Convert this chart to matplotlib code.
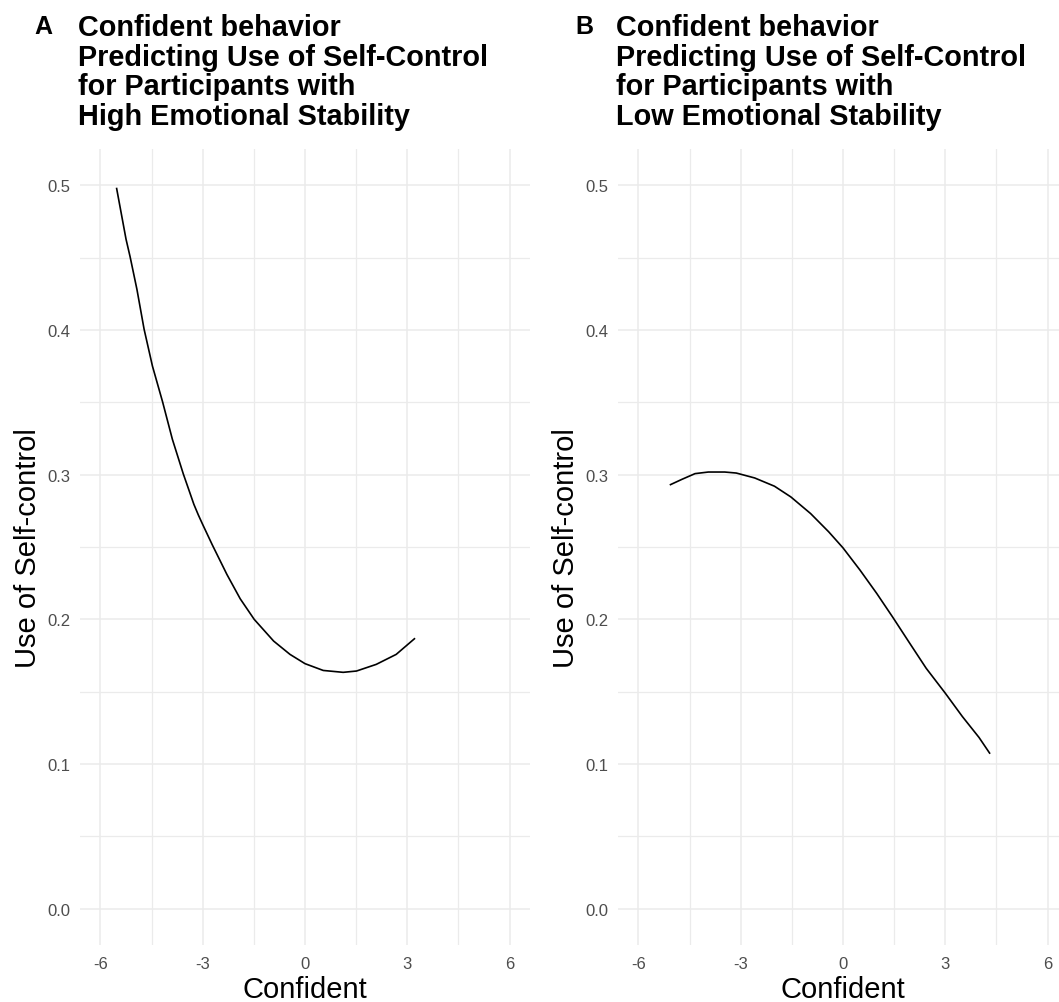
import matplotlib.pyplot as plt
from matplotlib.ticker import MultipleLocator

plt.rcParams['font.family'] = ['Liberation Sans', 'DejaVu Sans']
plt.rcParams['axes.unicode_minus'] = False

# valores leidos del grafico
# panel A: alta estabilidad emocional
conf_alta = [-5.525, -5.25, -5.13, -4.93, -4.72, -4.475, -4.18, -3.89, -3.57,
             -3.40, -3.26, -3.13, -3.00, -2.72, -2.29, -1.90, -1.49, -0.92, -0.44, 0.00,
             0.535, 1.12, 1.51, 2.09, 2.675, 3.21]
auto_alta = [0.4977, 0.4627, 0.4505, 0.428, 0.4005, 0.375, 0.3505, 0.3244, 0.3005,
             0.2890, 0.2795, 0.2722, 0.2655, 0.2515, 0.231, 0.2142, 0.200, 0.185, 0.1758, 0.1694,
             0.1647, 0.1634, 0.1643, 0.1689, 0.1758, 0.1866]

# panel B: baja estabilidad emocional
conf_baja = [-5.06, -4.72, -4.34, -3.95, -3.47, -3.13, -2.59, -2.01, -1.53,
             -0.95, -0.42, 0.00, 0.50, 0.99, 1.47, 1.96, 2.44, 3.00, 3.50,
             3.99, 4.30]
auto_baja = [0.2931, 0.2968, 0.3007, 0.3018, 0.3018, 0.3011, 0.2977, 0.292, 0.2846,
             0.2731, 0.2605, 0.2494, 0.234, 0.2179, 0.2011, 0.1834, 0.1662, 0.149,
             0.1329, 0.1184, 0.1076]

letras = ['A', 'B']
titulos = ['Confident behavior\nPredicting Use of Self-Control\nfor Participants with\nHigh Emotional Stability',
           'Confident behavior\nPredicting Use of Self-Control\nfor Participants with\nLow Emotional Stability']
x_ticks = [-6, -3, 0, 3, 6]
y_ticks = [0.0, 0.1, 0.2, 0.3, 0.4, 0.5]

W, H = 1059, 1003
fig = plt.figure(figsize=(W / 100, H / 100), dpi=100)

# posiciones de los paneles en pixeles (izquierda, arriba)
paneles = [(80, 150), (618, 150)]
ancho, alto = 450, 796
x_letra = [34, 575]
x_titulo = [78, 616]

datos = [(conf_alta, auto_alta), (conf_baja, auto_baja)]

for i in range(2):
    izq, arriba = paneles[i]
    ax = fig.add_axes([izq / W, 1 - (arriba + alto) / H, ancho / W, alto / H])
    x, y = datos[i]
    ax.plot(x, y, color='black', linewidth=1.2)

    ax.set_xlim(-6.6, 6.6)
    ax.set_ylim(-0.025, 0.525)
    ax.set_xticks(x_ticks)
    ax.set_yticks(y_ticks)
    ax.set_yticklabels(['%.1f' % v for v in y_ticks])
    ax.xaxis.set_minor_locator(MultipleLocator(1.5))
    ax.yaxis.set_minor_locator(MultipleLocator(0.05))
    ax.grid(which='major', color='#EBEBEB', linewidth=1.1)
    ax.grid(which='minor', color='#EBEBEB', linewidth=0.9)
    ax.set_axisbelow(True)
    for s in ax.spines.values():
        s.set_visible(False)
    ax.tick_params(which='both', length=0)
    ax.tick_params(axis='both', labelsize=12, labelcolor='#4D4D4D')
    ax.tick_params(axis='x', pad=8)
    ax.tick_params(axis='y', pad=7)

    ax.set_xlabel('Confident', fontsize=21, labelpad=3)
    ax.set_ylabel('Use of Self-control', fontsize=21, labelpad=4)

    fig.text(x_letra[i] / W, 1 - 15 / H, letras[i], fontsize=18, fontweight='bold',
             va='top', ha='left')
    fig.text(x_titulo[i] / W, 1 - 14 / H, titulos[i], fontsize=20.8, fontweight='bold',
             va='top', ha='left', linespacing=1.07)

plt.savefig('out.png', dpi=100)
